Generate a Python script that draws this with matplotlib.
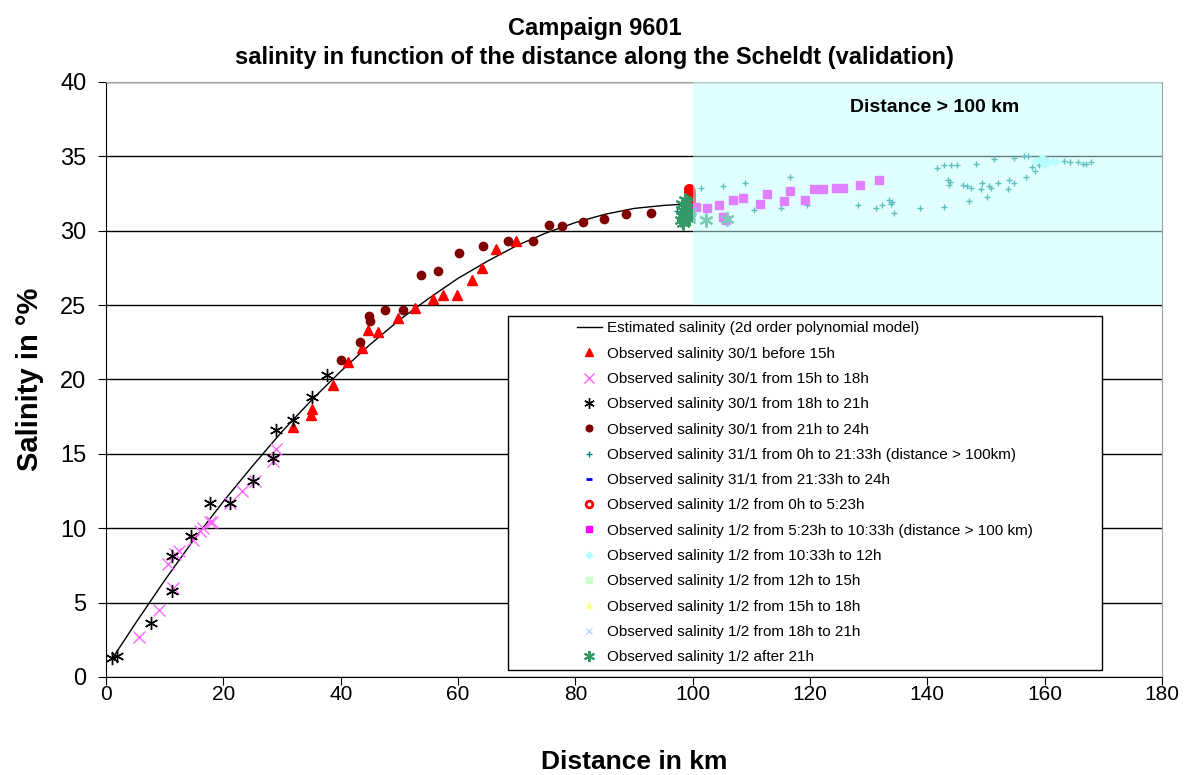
import matplotlib.pyplot as plt
from matplotlib.patches import Rectangle

plt.rcParams['font.family'] = ['Liberation Sans', 'DejaVu Sans']

# estimated curve (2d order polynomial model)
model_km = [1, 5, 10, 15, 20, 25, 30, 35, 40, 45, 50, 55, 60, 65, 70, 75, 80, 85, 90, 95, 99]
model_sal = [1.2, 3.6, 6.5, 9.25, 11.8, 14.2, 16.5, 18.6, 20.55, 22.35, 24.0, 25.45, 26.8,
             27.95, 29.0, 29.85, 30.55, 31.1, 31.5, 31.7, 31.8]

# 30/1 before 15h
s1_km = [31.9, 35.0, 35.1, 38.7, 41.2, 43.7, 44.7, 46.4, 49.7, 52.6, 55.8, 57.5, 59.8, 62.3,
         64.1, 66.5, 69.8]
s1_sal = [16.8, 17.6, 18.0, 19.6, 21.2, 22.1, 23.3, 23.2, 24.1, 24.8, 25.4, 25.7, 25.7, 26.7,
          27.5, 28.8, 29.3]

# 30/1 from 15h to 18h
s2_km = [5.7, 9.1, 10.6, 11.4, 11.8, 12.5, 14.9, 16.0, 16.6, 17.7, 18.0, 21.1, 23.1, 25.4,
         28.5, 29.0]
s2_sal = [2.7, 4.5, 7.6, 6.0, 8.3, 8.5, 9.2, 9.8, 10.0, 10.4, 10.4, 11.7, 12.5, 13.2, 14.5, 15.3]

# 30/1 from 18h to 21h
s3_km = [1.0, 1.8, 7.6, 11.2, 11.2, 14.5, 17.7, 21.1, 25.1, 28.4, 29.0, 31.8, 35.1, 37.7]
s3_sal = [1.3, 1.4, 3.6, 5.8, 8.1, 9.5, 11.7, 11.7, 13.2, 14.7, 16.6, 17.3, 18.8, 20.3]

# 30/1 from 21h to 24h
s4_km = [40.1, 43.3, 44.8, 45.0, 47.6, 50.7, 53.7, 56.5, 60.1, 64.3, 68.5, 72.7, 75.5, 77.8,
         81.3, 84.9, 88.7, 92.9]
s4_sal = [21.3, 22.5, 24.3, 23.9, 24.7, 24.7, 27.0, 27.3, 28.5, 29.0, 29.3, 29.3, 30.4, 30.3,
          30.6, 30.8, 31.1, 31.2]

# 31/1 from 0h to 21:33h (distance > 100 km)
s5_km = [97.3, 101.4, 105.2, 109.0, 116.6, 110.4, 115.0, 119.4, 128.2, 131.3, 132.2, 134.0,
         134.3, 138.7, 142.9, 141.7, 142.9, 144.0, 145.1, 148.3, 143.6, 143.7, 146.1, 146.8,
         147.1, 149.3, 149.1, 150.8, 150.2, 152.1, 154.0, 153.8, 154.8, 151.4, 154.7, 156.4,
         157.2, 156.8, 158.3, 158.9, 160.3, 161.5, 159.1, 163.3, 164.3, 165.7, 166.5, 167.0,
         167.9, 133.5, 133.8, 143.8, 147.5, 150.5, 157.8]
s5_sal = [31.3, 32.9, 33.0, 33.2, 33.6, 31.4, 31.5, 31.7, 31.7, 31.5, 31.7, 31.9, 31.2, 31.5,
          31.6, 34.2, 34.4, 34.4, 34.4, 34.5, 33.4, 33.1, 33.1, 33.0, 32.0, 33.2, 32.8, 32.9,
          32.3, 33.2, 33.4, 32.8, 33.2, 34.8, 34.9, 35.0, 35.0, 33.6, 34.0, 34.8, 34.8, 34.7,
          34.4, 34.7, 34.6, 34.6, 34.5, 34.5, 34.6, 32.1, 31.8, 33.3, 32.9, 33.0, 34.3]

# 31/1 from 21:33h to 24h
s6_km = []
s6_sal = []

# 1/2 from 0h to 5:23h
s7_km = [99.3, 99.5, 99.4, 99.6, 99.4, 99.5, 99.3, 99.6, 99.4, 99.5, 99.4, 99.5, 99.4, 99.5, 99.4]
s7_sal = [31.4, 31.5, 31.6, 31.7, 31.8, 31.9, 32.0, 32.1, 32.2, 32.3, 32.4, 32.5, 32.6, 32.7, 32.8]

# 1/2 from 5:23h to 10:33h (distance > 100 km)
s8_km = [100.5, 102.4, 104.5, 105.1, 105.7, 106.9, 108.6, 111.5, 112.6, 115.6, 116.6, 119.1,
         120.7, 122.2, 124.4, 125.6, 128.6, 131.8]
s8_sal = [31.6, 31.5, 31.7, 30.9, 30.7, 32.1, 32.2, 31.8, 32.5, 32.0, 32.7, 32.1, 32.8, 32.8,
          32.9, 32.9, 33.1, 33.4]

# 1/2 from 10:33h to 12h
s9_km = [158.5, 159.5, 160.5, 161.8, 159.8]
s9_sal = [34.7, 34.9, 34.6, 34.7, 34.5]

# 1/2 from 12h to 15h, 15h to 18h, 18h to 21h
s10_km, s10_sal = [], []
s11_km, s11_sal = [], []
s12_km, s12_sal = [], []

# 1/2 after 21h
s13_km = [98.0, 98.3, 98.6, 99.0, 99.3, 98.2, 98.8, 99.5, 98.4, 99.1, 98.1, 98.7, 99.4, 98.5,
          102.3, 105.8]
s13_sal = [30.7, 31.0, 31.3, 31.5, 30.8, 31.8, 31.1, 31.3, 30.5, 31.9, 31.4, 32.1, 31.0, 30.8,
           30.7, 30.8]

fig = plt.figure(figsize=(11.89, 7.75), dpi=100)
ax = fig.add_axes([0.0892, 0.1265, 0.8881, 0.7677])

ax.plot(model_km, model_sal, color='black', lw=1, label='Estimated salinity (2d order polynomial model)')
ax.plot(s1_km, s1_sal, ls='none', marker='^', ms=6.5, color='red', label='Observed salinity 30/1 before 15h')
ax.plot(s2_km, s2_sal, ls='none', marker='x', ms=9, mew=1, color='#ff66ff',
        label='Observed salinity 30/1 from 15h to 18h')
ax.plot(s3_km, s3_sal, ls='none', marker=(6, 2, 0), ms=9.5, mew=1, color='black',
        label='Observed salinity 30/1 from 18h to 21h')
ax.plot(s4_km, s4_sal, ls='none', marker='o', ms=6, color='#800000',
        label='Observed salinity 30/1 from 21h to 24h')
ax.plot(s5_km, s5_sal, ls='none', marker='+', ms=5, mew=1, color='#008080',
        label='Observed salinity 31/1 from 0h to 21:33h (distance > 100km)')
ax.plot(s6_km, s6_sal, ls='none', marker='_', ms=5, mew=2, color='blue',
        label='Observed salinity 31/1 from 21:33h to 24h')
ax.plot(s7_km, s7_sal, ls='none', marker='o', ms=6, mew=2, mfc='none', color='red',
        label='Observed salinity 1/2 from 0h to 5:23h')
ax.plot(s8_km, s8_sal, ls='none', marker='s', ms=6, color='#ff00ff',
        label='Observed salinity 1/2 from 5:23h to 10:33h (distance > 100 km)')
ax.plot(s9_km, s9_sal, ls='none', marker='D', ms=4, color='#aaffff',
        label='Observed salinity 1/2 from 10:33h to 12h')
ax.plot(s10_km, s10_sal, ls='none', marker='s', ms=5, color='#ccffcc',
        label='Observed salinity 1/2 from 12h to 15h')
ax.plot(s11_km, s11_sal, ls='none', marker='^', ms=5, color='#ffff99',
        label='Observed salinity 1/2 from 15h to 18h')
ax.plot(s12_km, s12_sal, ls='none', marker='x', ms=5, color='#bbd8ff',
        label='Observed salinity 1/2 from 18h to 21h')
ax.plot(s13_km, s13_sal, ls='none', marker=(6, 2, 0), ms=10, mew=1.5, color='#339966',
        label='Observed salinity 1/2 after 21h')

# shaded zone beyond 100 km
ax.add_patch(Rectangle((100, 25), 80, 15, facecolor='#c2ffff', alpha=0.5, lw=0, zorder=5))
ax.text(141.3, 38.3, 'Distance > 100 km', fontsize=14, fontweight='bold', ha='center', va='center',
        zorder=6)

ax.set_xlim(0, 180)
ax.set_ylim(0, 40)
ax.set_xticks(range(0, 181, 20))
ax.set_yticks(range(0, 41, 5))
ax.tick_params(axis='y', labelsize=17, length=6, pad=8, direction='out')
ax.tick_params(axis='x', labelsize=15, length=6, pad=0, direction='out')
ax.yaxis.grid(True, color='black', lw=1)
ax.set_axisbelow(True)
for s in ['top', 'right']:
    ax.spines[s].set_color('#a0a0a0')

ax.set_xlabel('Distance in km', fontsize=19, fontweight='bold')
ax.xaxis.set_label_coords(0.5, -0.143)
ax.xaxis.label.set_va('center')
ax.set_ylabel('Salinity in °%', fontsize=21, fontweight='bold')
ax.yaxis.set_label_coords(-0.072, 0.5)
ax.yaxis.label.set_va('center')

fig.text(0.5, 0.963, 'Campaign 9601', fontsize=17, fontweight='bold', ha='center', va='center')
fig.text(0.5, 0.926, 'salinity in function of the distance along the Scheldt (validation)', fontsize=17,
         fontweight='bold', ha='center', va='center')

# legend box drawn separately so the entries sit centred inside it
box = (0.381, 0.012, 0.562, 0.595)
ax.add_patch(Rectangle(box[:2], box[2], box[3], transform=ax.transAxes, facecolor='white',
                       edgecolor='black', lw=1, zorder=9))
leg = ax.legend(loc='center', bbox_to_anchor=(box[0] + box[2] / 2, box[1] + box[3] / 2),
                fontsize=11, frameon=False, labelspacing=0.74, handlelength=1.6,
                handletextpad=0.35, numpoints=1, markerscale=0.8)
leg.set_zorder(10)

fig.savefig('out.png', dpi=100)
